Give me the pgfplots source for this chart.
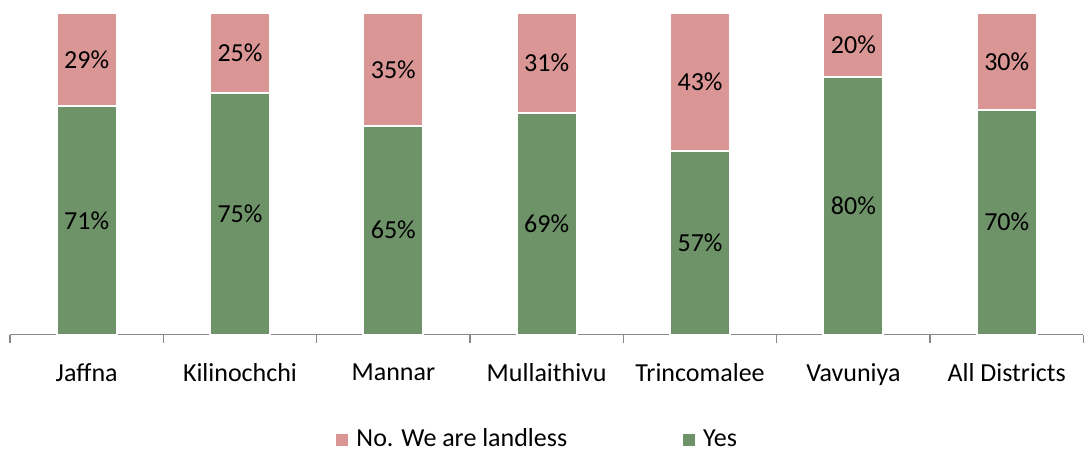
\documentclass[border=0pt]{standalone}
\usepackage{fontspec}
\setmainfont{Carlito}
\usepackage{pgfplots}
\usepackage{pgfplotstable}
\pgfplotsset{compat=1.18}
\definecolor{yesgreen}{HTML}{6F9369}
\definecolor{nopink}{HTML}{D99694}
\definecolor{axisgray}{HTML}{898989}

\pgfplotstableread{
x yes no
0 71 29
1 75 25
2 65 35
3 69 31
4 57 43
5 80 20
6 70 30
}\landdata

\begin{document}
\fontsize{13}{15}\selectfont
\begin{tikzpicture}
\path (0,-61pt) rectangle (542pt,167.5pt);
\begin{axis}[
  at={(5pt,0pt)}, anchor=south west,
  scale only axis, width=537pt, height=161pt,
  ybar stacked, bar width=30pt,
  xmin=-0.5, xmax=6.5, ymin=0, ymax=100,
  axis x line*=bottom, axis y line=none,
  xtick={0,...,6},
  xticklabels={Jaffna,Kilinochchi,Mannar,Mullaithivu,Trincomalee,Vavuniya,All Districts},
  major tick length=0pt,
  minor xtick={-0.5,0.5,...,6.5},
  minor tick length=4pt, tick align=outside,
  minor tick style={axisgray, line width=0.6pt},
  x axis line style={axisgray, line width=0.6pt, -},
  xticklabel style={font=\fontsize{13}{15}\selectfont, yshift=-10pt},
  /pgf/number format/assume math mode=true,
  point meta=explicit,
  nodes near coords={\pgfmathprintnumber{\pgfplotspointmeta}\%},
  every node near coord/.append style={anchor=center, black,
    font=\fontsize{13}{15}\selectfont},
  reverse legend,
  legend columns=2,
  legend style={draw=none, fill=none, at={(0.4926,-0.326)}, anchor=center,
    font=\fontsize{13}{15}\selectfont,
    /tikz/every odd column/.append style={column sep=2pt},
    /tikz/every even column/.append style={column sep=56pt}},
  legend image code/.code={\fill[#1,draw=none] (0pt,-3pt) rectangle (6pt,3pt);},
  clip=false,
]
\addplot[fill=yesgreen, draw=white, line width=1pt]
  table[x=x, y=yes, meta=yes] {\landdata};
\addlegendentry{Yes}
\addplot[fill=nopink, draw=white, line width=1pt]
  table[x=x, y=no, meta=no] {\landdata};
\addlegendentry{No. We are landless}
\end{axis}
\end{tikzpicture}
\end{document}
